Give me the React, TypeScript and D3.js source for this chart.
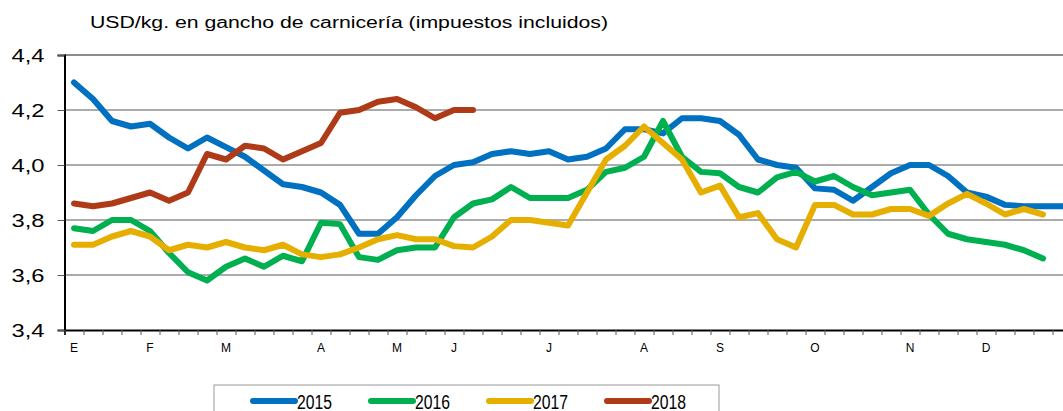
import React, {useEffect, useRef} from 'react'
import * as d3 from 'd3';

// weekly prices, USD/kg
const values2015 = [4.30, 4.24, 4.16, 4.14, 4.15, 4.10, 4.06, 4.10, 4.065, 4.03,
    3.98, 3.93, 3.92, 3.90, 3.855, 3.75, 3.75, 3.81, 3.89, 3.96,
    4.00, 4.01, 4.04, 4.05, 4.04, 4.05, 4.02, 4.03, 4.06, 4.13,
    4.13, 4.115, 4.17, 4.17, 4.16, 4.11, 4.02, 4.00, 3.99, 3.915,
    3.91, 3.87, 3.92, 3.97, 4.00, 4.00, 3.96, 3.90, 3.885, 3.855,
    3.85, 3.85, 3.85];
const values2016 = [3.77, 3.76, 3.80, 3.80, 3.76, 3.68, 3.61, 3.58, 3.63, 3.66,
    3.63, 3.67, 3.65, 3.79, 3.785, 3.665, 3.655, 3.69, 3.70, 3.70,
    3.81, 3.86, 3.875, 3.92, 3.88, 3.88, 3.88, 3.91, 3.975, 3.99,
    4.03, 4.16, 4.03, 3.975, 3.97, 3.92, 3.90, 3.955, 3.975, 3.94,
    3.96, 3.92, 3.89, 3.90, 3.91, 3.82, 3.75, 3.73, 3.72, 3.71,
    3.69, 3.66];
const values2017 = [3.71, 3.71, 3.74, 3.76, 3.74, 3.69, 3.71, 3.70, 3.72, 3.70,
    3.69, 3.71, 3.675, 3.665, 3.675, 3.70, 3.73, 3.745, 3.73, 3.73,
    3.705, 3.70, 3.74, 3.80, 3.80, 3.79, 3.78, 3.90, 4.02, 4.07,
    4.14, 4.08, 4.02, 3.90, 3.925, 3.81, 3.825, 3.73, 3.70, 3.855,
    3.855, 3.82, 3.82, 3.84, 3.84, 3.815, 3.86, 3.895, 3.86, 3.82,
    3.84, 3.82];
const values2018 = [3.86, 3.85, 3.86, 3.88, 3.90, 3.87, 3.90, 4.04, 4.02, 4.07,
    4.06, 4.02, 4.05, 4.08, 4.19, 4.20, 4.23, 4.24, 4.21, 4.17,
    4.20, 4.20];

const years = ['2015', '2016', '2017', '2018'];
const colors = ['#0070c0', '#00b050', '#e6af00', '#ae3a17'];
const seriesValues = [values2015, values2016, values2017, values2018];

const monthLabels = ['E', 'F', 'M', 'A', 'M', 'J', 'J', 'A', 'S', 'O', 'N', 'D'];
const monthWeeks = [0, 4, 8, 13, 17, 20, 25, 30, 34, 39, 44, 48];
const yTicks = [3.4, 3.6, 3.8, 4.0, 4.2, 4.4];

export default function App(){
    const svgRef = useRef(null);

    const W = 1063, H = 411;
    const left = 64.5, top = 55, bottom = 330;
    const step = 19;

    useEffect(() => {
        const svg = d3.select(svgRef.current);
        svg.selectAll('*').remove();

        const x = d3.scaleLinear().domain([0, 53]).range([left, left + 53 * step]);
        const y = d3.scaleLinear().domain([3.4, 4.4]).range([bottom, top]);
        const fmt = d3.formatLocale({decimal: ',', thousands: '.', grouping: [3], currency: ['', '']}).format('.1f');

        // title
        svg.append('text')
            .attr('x', 90).attr('y', 28)
            .attr('font-family', 'Liberation Sans, Arial, sans-serif')
            .attr('font-size', 16)
            .attr('textLength', 518)
            .attr('lengthAdjust', 'spacingAndGlyphs')
            .text('USD/kg. en gancho de carnicería (impuestos incluidos)');

        // gridlines
        svg.append('g')
            .selectAll('line')
            .data(yTicks.slice(1, 5))
            .join('line')
            .attr('x1', left).attr('x2', W)
            .attr('y1', d => y(d)).attr('y2', d => y(d))
            .attr('stroke', '#595959').attr('stroke-width', 1);

        // top border
        svg.append('line')
            .attr('x1', left).attr('x2', W)
            .attr('y1', y(4.4)).attr('y2', y(4.4))
            .attr('stroke', '#8c8c8c').attr('stroke-width', 2);

        // y axis
        const yaxis = d3.axisLeft(y).tickValues(yTicks).tickSize(7).tickFormat(d => fmt(d));
        svg.append('g')
            .attr('transform', `translate(${left},0)`)
            .call(yaxis)
            .call(g => g.select('.domain').attr('stroke', '#000').attr('stroke-width', 2))
            .call(g => g.selectAll('.tick line').attr('stroke', '#595959'))
            .call(g => g.selectAll('.tick text')
                .attr('x', -20)
                .attr('fill', '#000')
                .attr('font-family', 'Liberation Sans, Arial, sans-serif')
                .attr('font-size', 19)
                .attr('textLength', 33)
                .attr('lengthAdjust', 'spacingAndGlyphs'));

        // x axis
        const xaxis = d3.axisBottom(x).tickValues(d3.range(0, 54)).tickSize(5).tickFormat(() => '');
        svg.append('g')
            .attr('transform', `translate(0,${bottom})`)
            .call(xaxis)
            .call(g => g.select('.domain').attr('stroke', '#000').attr('stroke-width', 2))
            .call(g => g.selectAll('.tick line').attr('stroke', '#595959'));

        svg.append('g')
            .selectAll('text')
            .data(monthLabels)
            .join('text')
            .attr('x', (d, i) => x(monthWeeks[i] + 0.5))
            .attr('y', 352)
            .attr('text-anchor', 'middle')
            .attr('font-family', 'Liberation Sans, Arial, sans-serif')
            .attr('font-size', 12)
            .text(d => d);

        // lines
        const line = d3.line().x((d, i) => x(i + 0.5)).y(d => y(d));
        svg.append('g')
            .selectAll('path')
            .data(seriesValues)
            .join('path')
            .attr('d', d => line(d))
            .attr('fill', 'none')
            .attr('stroke', (d, i) => colors[i])
            .attr('stroke-width', 6)
            .attr('stroke-linecap', 'round')
            .attr('stroke-linejoin', 'round');

        // legend
        svg.append('rect')
            .attr('x', 214).attr('y', 385)
            .attr('width', 505).attr('height', 40)
            .attr('fill', '#fff')
            .attr('stroke', '#9a9a9a').attr('stroke-width', 1);

        const item = svg.append('g')
            .selectAll('g')
            .data(years)
            .join('g')
            .attr('transform', (d, i) => `translate(${253 + i * 118},401)`);
        item.append('line')
            .attr('x1', 0).attr('x2', 42)
            .attr('stroke', (d, i) => colors[i])
            .attr('stroke-width', 6)
            .attr('stroke-linecap', 'round');
        item.append('text')
            .attr('x', 44).attr('y', 7.5)
            .attr('font-family', 'Liberation Sans Narrow, Arial Narrow, Liberation Sans, sans-serif')
            .attr('font-size', 20)
            .attr('textLength', 35)
            .attr('lengthAdjust', 'spacingAndGlyphs')
            .text(d => d);
    }, []);

    return (
        <svg
            ref={svgRef}
            width={W}
            height={H}
            style={{position: 'absolute', left: 0, top: 0, background: '#fff'}}
        >
        </svg>
    );
}
